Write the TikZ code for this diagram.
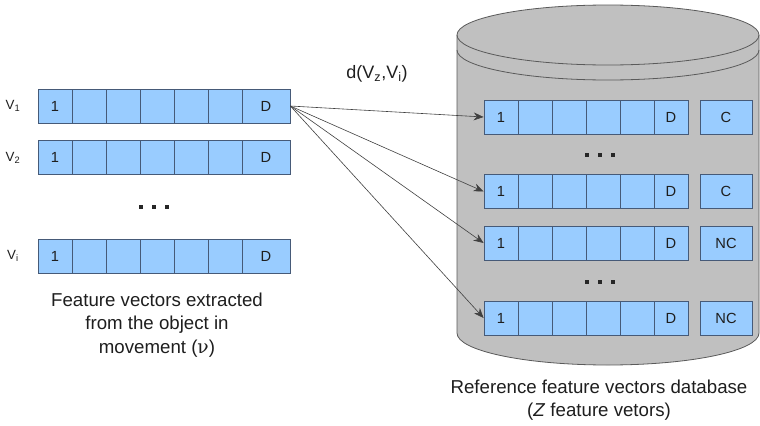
\documentclass[tikz,border=0pt]{standalone}
\usepackage{fontspec}
\setmainfont{Liberation Sans}
\newfontfamily\greekserif{DejaVu Serif}
\usetikzlibrary{arrows.meta}
\definecolor{cellblue}{RGB}{153,204,255}
\definecolor{cellline}{RGB}{70,90,120}
\definecolor{dbgray}{RGB}{192,192,192}
\definecolor{dbline}{RGB}{90,90,90}
\definecolor{txt}{RGB}{30,30,30}
\begin{document}
\begin{tikzpicture}[x=0.75pt,y=-0.75pt,
  cell/.style={draw=cellline, fill=cellblue, line width=0.6pt, minimum height=25.5pt,
    minimum width=25.5pt, inner sep=0pt, text=txt, font=\fontsize{11}{12}\selectfont},
  wide/.style={minimum width=36pt},
  lab/.style={minimum width=39pt},
  conn/.style={draw=black!75, line width=0.45pt, -{Stealth[length=7.5pt,width=6pt,inset=2.5pt]}},
  dotsq/.style={fill=black!85},
  vlab/.style={text=txt, font=\fontsize{10}{12}\selectfont},
  captext/.style={text=txt, align=center, font=\fontsize{14}{17.5}\selectfont}]
\useasboundingbox (0,0) rectangle (760,425);

% database cylinder
\path[fill=dbgray, draw=dbline, line width=0.6pt]
  (457,35) -- (457,333)
  .. controls (457,350.7) and (524.6,365) .. (608,365)
  .. controls (691.4,365) and (759,350.7) .. (759,333)
  -- (759,35)
  .. controls (759,18.4) and (691.4,5) .. (608,5)
  .. controls (524.6,5) and (457,18.4) .. (457,35) -- cycle;
\draw[dbline, line width=0.6pt]
  (457,35) .. controls (457,51.6) and (524.6,65) .. (608,65)
  .. controls (691.4,65) and (759,51.6) .. (759,35);
\draw[dbline, line width=0.6pt]
  (457,50) .. controls (457,66.6) and (524.6,80) .. (608,80)
  .. controls (691.4,80) and (759,66.6) .. (759,50);

% left vectors
\foreach \r/\yy/\lbl in {a/106/1, b/157.5/2, c/256/i} {
  \node[cell] (\r1) at (55,\yy) {1};
  \foreach \k in {2,...,6} {
    \node[cell] (\r\k) at ({38+34*(\k-1)+17},\yy) {};
  }
  \node[cell, wide] (\r7) at (266,\yy) {D};
  \node[vlab] (\r L) at (13,\yy) {V\textsubscript{\lbl}};
}

% right vectors
\foreach \r/\yy/\cl in {p/117/C, q/191.5/C, s/243/NC, t/318/NC} {
  \node[cell] (\r1) at (501,\yy) {1};
  \foreach \k in {2,...,5} {
    \node[cell] (\r\k) at ({484+34*(\k-1)+17},\yy) {};
  }
  \node[cell] (\r6) at (671,\yy) {D};
  \node[cell, lab] (\r C) at (726,\yy) {\cl};
}

% dots
\foreach \xx/\yy in {141/207, 154/207, 167/207, 587/155, 600/155, 613/155, 587/282, 600/282, 613/282} {
  \fill[dotsq] (\xx-1.7,\yy-1.7) rectangle (\xx+1.7,\yy+1.7);
}

% connectors
\foreach \r in {p,q,s,t} {
  \draw[conn] (a7.east) -- (\r1.west);
}

% labels
\node[text=txt, font=\fontsize{13.5}{16}\selectfont] (dlab) at (377,74) {d(V\textsubscript{z},V\textsubscript{i})};
\node[captext] (leftcap) at (157,325) {Feature vectors extracted\\from the object in\\movement ({\greekserif ν})};
\node[captext] (rightcap) at (599,400) {Reference feature vectors database\\(\textit{Z} feature vetors)};
\end{tikzpicture}
\end{document}
